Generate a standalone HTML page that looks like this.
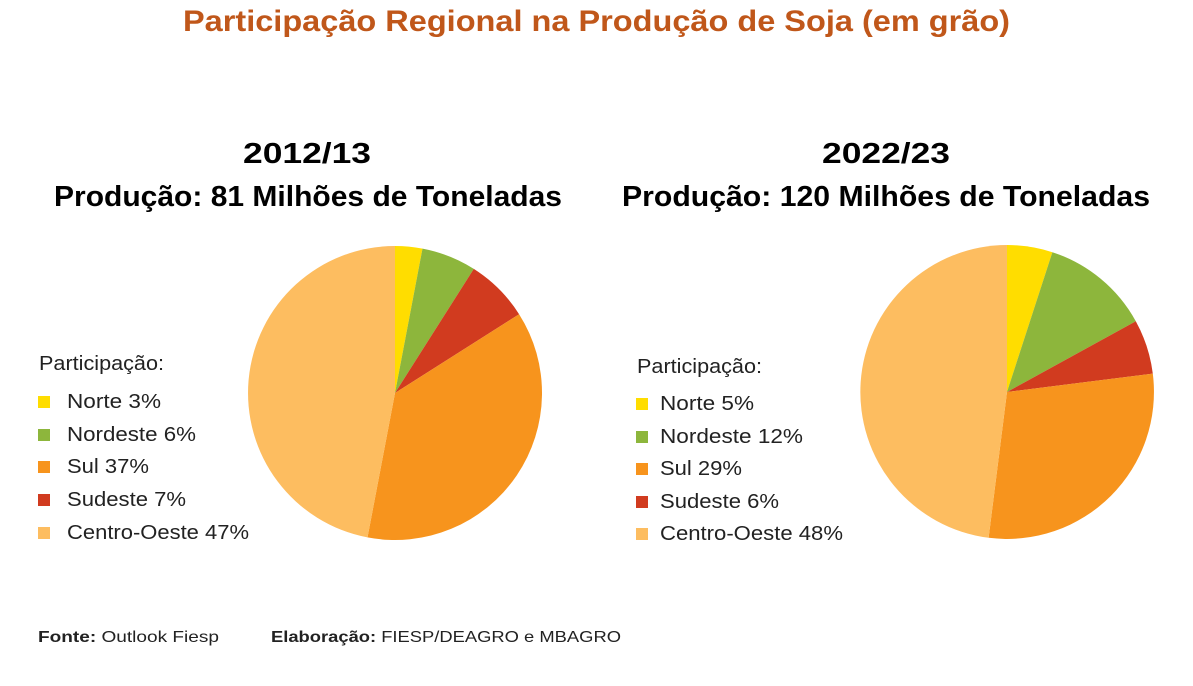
<!DOCTYPE html>
<html><head><meta charset="utf-8"><style>
body{margin:0;background:#fff;width:1193px;height:686px;overflow:hidden;font-family:"Liberation Sans",sans-serif;}
svg{display:block}
</style></head><body>
<svg width="1193" height="686" xmlns="http://www.w3.org/2000/svg" font-family="Liberation Sans, sans-serif">
<text x="183" y="31" textLength="827" lengthAdjust="spacingAndGlyphs" font-size="30" font-weight="bold" fill="#C0571A">Participação Regional na Produção de Soja (em grão)</text>
<text x="243" y="163" textLength="128" lengthAdjust="spacingAndGlyphs" font-size="29" font-weight="bold" fill="#000">2012/13</text>
<text x="54" y="206" textLength="508" lengthAdjust="spacingAndGlyphs" font-size="29" font-weight="bold" fill="#000">Produção: 81 Milhões de Toneladas</text>
<text x="822" y="163" textLength="128" lengthAdjust="spacingAndGlyphs" font-size="29" font-weight="bold" fill="#000">2022/23</text>
<text x="622" y="206" textLength="528" lengthAdjust="spacingAndGlyphs" font-size="29" font-weight="bold" fill="#000">Produção: 120 Milhões de Toneladas</text>
<path d="M395 393 L395 246 A147 147 0 0 1 422.5 248.6 Z" fill="#FFDD00"/>
<path d="M395 393 L422.5 248.6 A147 147 0 0 1 473.8 268.9 Z" fill="#8DB63C"/>
<path d="M395 393 L473.8 268.9 A147 147 0 0 1 519.1 314.2 Z" fill="#D13B1F"/>
<path d="M395 393 L519.1 314.2 A147 147 0 0 1 367.5 537.4 Z" fill="#F7941D"/>
<path d="M395 393 L367.5 537.4 A147 147 0 0 1 395 246 Z" fill="#FDBD60"/>
<path d="M1007 392 L1007 245 A147 147 0 0 1 1052.4 252.2 Z" fill="#FFDD00"/>
<path d="M1007 392 L1052.4 252.2 A147 147 0 0 1 1135.8 321.2 Z" fill="#8DB63C"/>
<path d="M1007 392 L1135.8 321.2 A147 147 0 0 1 1152.8 373.6 Z" fill="#D13B1F"/>
<path d="M1007 392 L1152.8 373.6 A147 147 0 0 1 988.6 537.8 Z" fill="#F7941D"/>
<path d="M1007 392 L988.6 537.8 A147 147 0 0 1 1007 245 Z" fill="#FDBD60"/>
<g font-size="20" fill="#222">
<text x="39" y="370" textLength="125" lengthAdjust="spacingAndGlyphs">Participação:</text>
<rect x="38" y="396" width="12" height="12" fill="#FFDD00"/><text x="67" y="408" textLength="94" lengthAdjust="spacingAndGlyphs">Norte 3%</text>
<rect x="38" y="429" width="12" height="12" fill="#8DB63C"/><text x="67" y="441" textLength="129" lengthAdjust="spacingAndGlyphs">Nordeste 6%</text>
<rect x="38" y="461" width="12" height="12" fill="#F7941D"/><text x="67" y="473" textLength="82" lengthAdjust="spacingAndGlyphs">Sul 37%</text>
<rect x="38" y="494" width="12" height="12" fill="#D13B1F"/><text x="67" y="506" textLength="119" lengthAdjust="spacingAndGlyphs">Sudeste 7%</text>
<rect x="38" y="527" width="12" height="12" fill="#FDBD60"/><text x="67" y="539" textLength="182" lengthAdjust="spacingAndGlyphs">Centro-Oeste 47%</text>
<text x="637" y="373" textLength="125" lengthAdjust="spacingAndGlyphs">Participação:</text>
<rect x="636" y="398" width="12" height="12" fill="#FFDD00"/><text x="660" y="410" textLength="94" lengthAdjust="spacingAndGlyphs">Norte 5%</text>
<rect x="636" y="431" width="12" height="12" fill="#8DB63C"/><text x="660" y="443" textLength="143" lengthAdjust="spacingAndGlyphs">Nordeste 12%</text>
<rect x="636" y="463" width="12" height="12" fill="#F7941D"/><text x="660" y="475" textLength="82" lengthAdjust="spacingAndGlyphs">Sul 29%</text>
<rect x="636" y="496" width="12" height="12" fill="#D13B1F"/><text x="660" y="508" textLength="119" lengthAdjust="spacingAndGlyphs">Sudeste 6%</text>
<rect x="636" y="528" width="12" height="12" fill="#FDBD60"/><text x="660" y="540" textLength="183" lengthAdjust="spacingAndGlyphs">Centro-Oeste 48%</text>
</g>
<g font-size="16" fill="#222">
<text x="38" y="642" textLength="181" lengthAdjust="spacingAndGlyphs"><tspan font-weight="bold">Fonte:</tspan> Outlook Fiesp</text>
<text x="271" y="642" textLength="350" lengthAdjust="spacingAndGlyphs"><tspan font-weight="bold">Elaboração:</tspan> FIESP/DEAGRO e MBAGRO</text>
</g>
</svg>
</body></html>
